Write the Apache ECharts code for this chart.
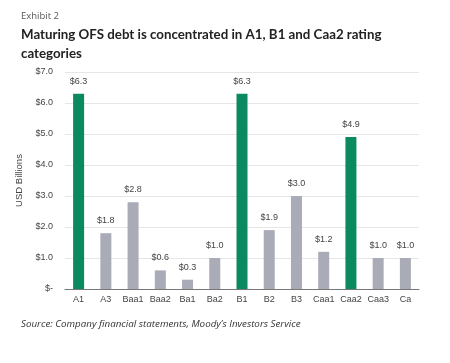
<!DOCTYPE html>
<html><head><meta charset="utf-8">
<script src="https://cdn.jsdelivr.net/npm/echarts@6/dist/echarts.min.js"></script>
<style>html,body{margin:0;padding:0;background:#fff}#c{width:450px;height:363px}</style>
</head><body><div id="c"></div>
<script>
const categories = ['A1','A3','Baa1','Baa2','Ba1','Ba2','B1','B2','B3','Caa1','Caa2','Caa3','Ca'];
const values = [6.3,1.8,2.8,0.6,0.3,1.0,6.3,1.9,3.0,1.2,4.9,1.0,1.0];
const highlighted = ['A1','B1','Caa2'];
const yTicks = [0,1,2,3,4,5,6,7];
const GREEN = '#0b8a62', GREY = '#a9acb7';
const chart = echarts.init(document.getElementById('c'), null, {renderer:'canvas'});
chart.setOption({
  animation:false,
  backgroundColor:'#fff',
  title:[
    {text:'Exhibit 2', left:16, top:6, textStyle:{fontFamily:'Open Sans', fontSize:9.5, fontWeight:'normal', color:'#555'}},
    {text:'Maturing OFS debt is concentrated in A1, B1 and Caa2 rating\ncategories', left:16, top:20,
     textStyle:{fontFamily:'Lato', fontSize:13.3, fontWeight:'bold', color:'#222', lineHeight:19}},
    {text:'Source: Company financial statements, Moody\u2019s Investors Service', left:16, top:314,
     textStyle:{fontFamily:'Open Sans', fontSize:9.8, fontStyle:'italic', fontWeight:'normal', color:'#333'}}
  ],
  grid:{left:65, right:31, top:72, bottom:74, containLabel:false},
  xAxis:{type:'category', data:categories,
    axisLine:{lineStyle:{color:'#777', width:1}}, axisTick:{show:false},
    axisLabel:{fontFamily:'Liberation Sans', fontSize:9, color:'#444', margin:6, interval:0}},
  yAxis:{type:'value', min:0, max:7, interval:1,
    name:'USD Billions', nameLocation:'middle', nameGap:36, nameRotate:90,
    nameTextStyle:{fontFamily:'Liberation Sans', fontSize:9.5, color:'#444'},
    axisLine:{show:false}, axisTick:{show:false},
    axisLabel:{fontFamily:'Liberation Sans', fontSize:9, color:'#444', margin:12,
      formatter:v=> v===0 ? '$-' : '$'+v.toFixed(1)},
    splitLine:{lineStyle:{color:'#e6e6e6', width:1}}},
  series:[{type:'bar', barWidth:11,
    data:values.map((v,i)=>({value:v, itemStyle:{color: highlighted.includes(categories[i]) ? GREEN : GREY}})),
    label:{show:true, position:'top', distance:8, fontFamily:'Liberation Sans', fontSize:9, color:'#444',
      formatter:p=>'$'+p.value.toFixed(1)}}]
});
</script></body></html>
